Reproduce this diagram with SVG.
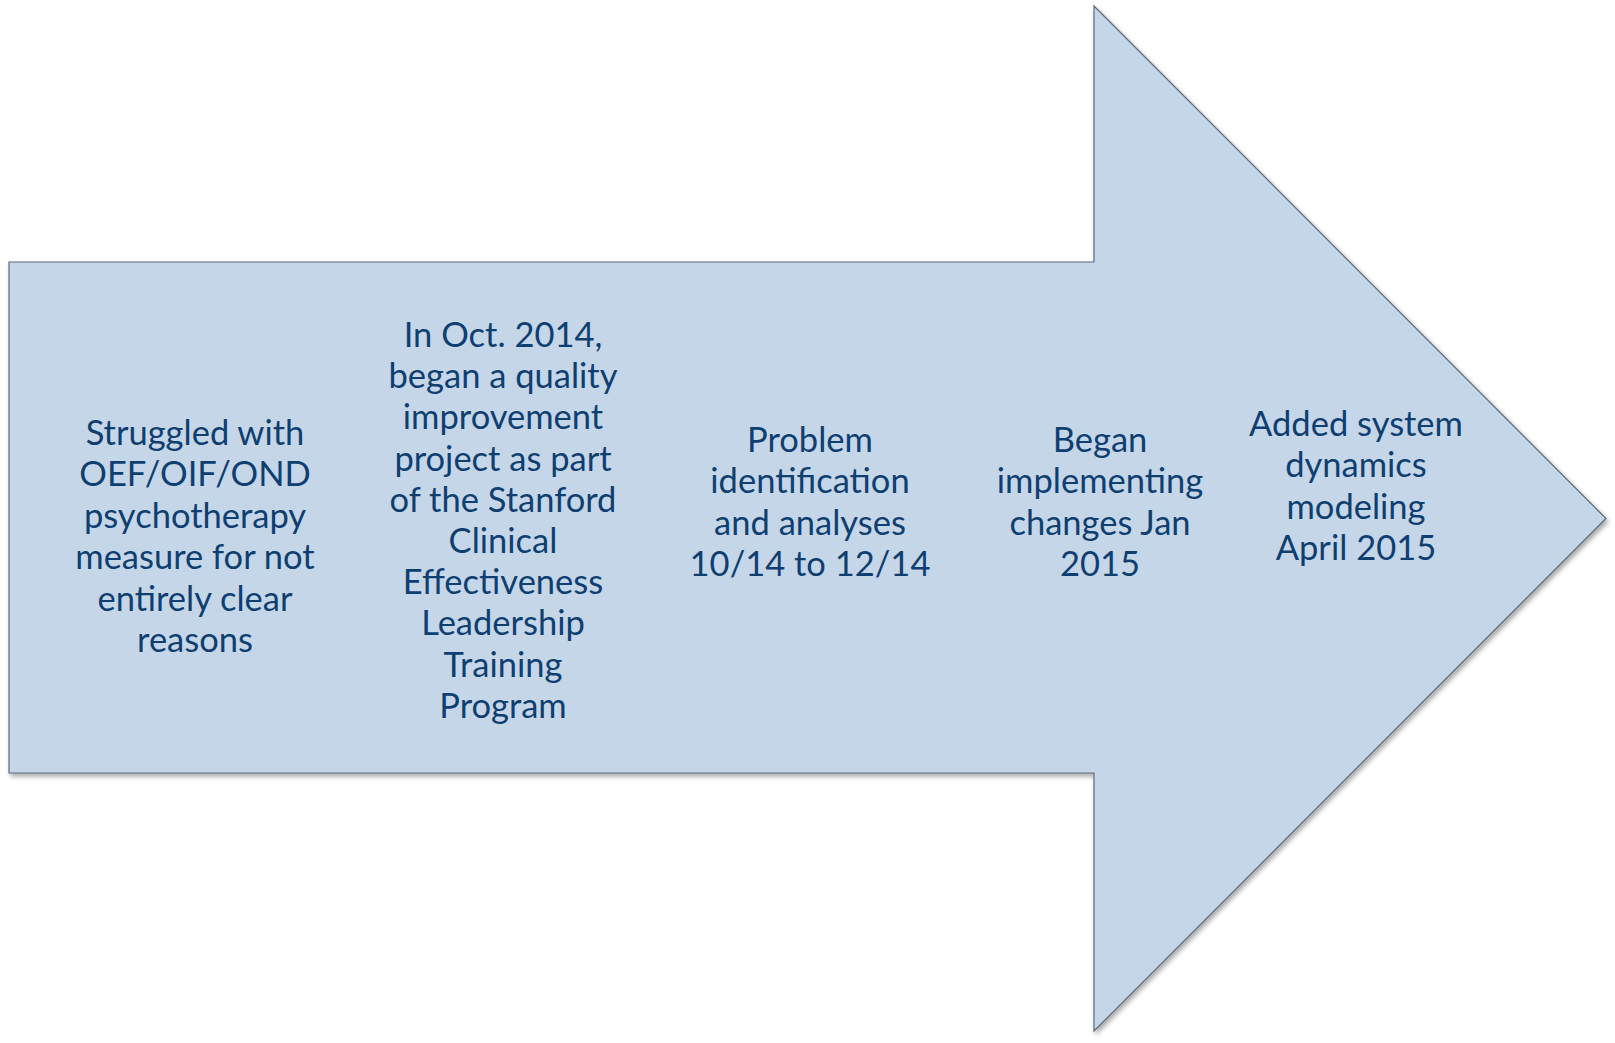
<svg xmlns="http://www.w3.org/2000/svg" width="1615" height="1043" viewBox="0 0 1615 1043">
<defs>
<style>
.t{font-family:Lato,"Open Sans","Liberation Sans",sans-serif;font-size:34.5px;fill:#0E3F70;text-anchor:middle}
</style>
<filter id="sh" x="-5%" y="-5%" width="110%" height="110%">
<feGaussianBlur in="SourceAlpha" stdDeviation="2.5"/>
<feOffset dx="2" dy="3" result="b"/>
<feComponentTransfer><feFuncA type="linear" slope="0.35"/></feComponentTransfer>
<feMerge><feMergeNode/><feMergeNode in="SourceGraphic"/></feMerge>
</filter>
</defs>
<rect width="1615" height="1043" fill="#FFFFFF"/>
<g id="arrow">
<path d="M9,262 L1094,262 L1094,6 L1606,518.5 L1094,1031 L1094,773 L9,773 Z" fill="#C6D6E9" stroke="#5B6B7C" stroke-width="1.2" filter="url(#sh)"/>
</g>
<g id="step1">
<text class="t" x="195" y="445">Struggled with</text>
<text class="t" x="195" y="486.4">OEF/OIF/OND</text>
<text class="t" x="195" y="527.8">psychotherapy</text>
<text class="t" x="195" y="569.2">measure for not</text>
<text class="t" x="195" y="610.6">entirely clear</text>
<text class="t" x="195" y="652">reasons</text>
</g>
<g id="step2">
<text class="t" x="503" y="347">In Oct. 2014,</text>
<text class="t" x="503" y="388.2">began a quality</text>
<text class="t" x="503" y="429.4">improvement</text>
<text class="t" x="503" y="470.6">project as part</text>
<text class="t" x="503" y="511.8">of the Stanford</text>
<text class="t" x="503" y="553">Clinical</text>
<text class="t" x="503" y="594.2">Effectiveness</text>
<text class="t" x="503" y="635.4">Leadership</text>
<text class="t" x="503" y="676.6">Training</text>
<text class="t" x="503" y="717.8">Program</text>
</g>
<g id="step3">
<text class="t" x="810" y="452">Problem</text>
<text class="t" x="810" y="493.3">identification</text>
<text class="t" x="810" y="534.6">and analyses</text>
<text class="t" x="810" y="576">10/14 to 12/14</text>
</g>
<g id="step4">
<text class="t" x="1100" y="452">Began</text>
<text class="t" x="1100" y="493.3">implementing</text>
<text class="t" x="1100" y="534.6">changes Jan</text>
<text class="t" x="1100" y="576">2015</text>
</g>
<g id="step5">
<text class="t" x="1356" y="436">Added system</text>
<text class="t" x="1356" y="477.3">dynamics</text>
<text class="t" x="1356" y="518.6">modeling</text>
<text class="t" x="1356" y="560">April 2015</text>
</g>
<g id="connectors"/>
</svg>
